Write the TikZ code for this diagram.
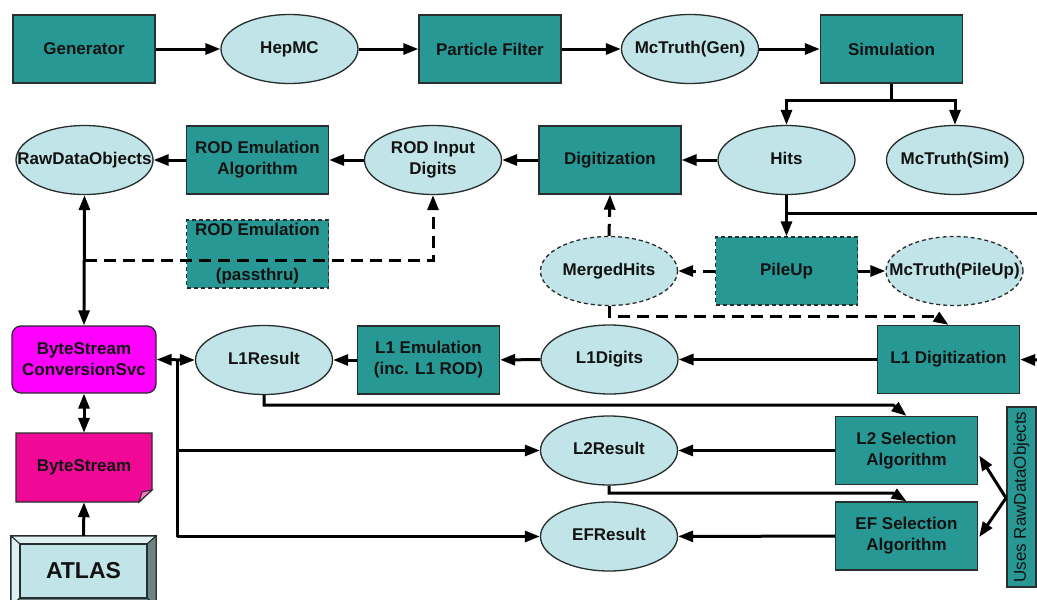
\documentclass[tikz,border=0pt]{standalone}
\usepackage{fontspec}
\setmainfont{Liberation Sans}
\usetikzlibrary{shapes.geometric,arrows.meta,calc}
\definecolor{tealc}{RGB}{40,152,148}
\definecolor{lightc}{RGB}{192,228,231}
\definecolor{bord}{RGB}{40,45,45}
\definecolor{txt}{RGB}{18,18,18}
\definecolor{magc}{RGB}{255,0,255}
\definecolor{pinkc}{RGB}{240,8,150}
\definecolor{pinkl}{RGB}{250,120,200}
\definecolor{bevl}{RGB}{222,240,242}
\definecolor{bevd}{RGB}{110,132,132}
\newcommand{\zt}[1]{\makebox[0pt]{\begin{tabular}{@{}c@{}}#1\end{tabular}}}
\begin{document}
\begin{tikzpicture}[x=1pt,y=-1pt,
  every node/.style={font=\bfseries\fontsize{17}{21}\selectfont, text=txt},
  alg/.style={rectangle, draw=bord, line width=1.3pt, fill=tealc, minimum width=142pt, minimum height=68pt, inner sep=0pt, align=center},
  dat/.style={ellipse, draw=bord, line width=1.3pt, fill=lightc, minimum width=137pt, minimum height=69pt, inner sep=0pt},
  ndash/.style={dash pattern=on 4pt off 3pt},
  ln/.style={line width=3pt},
  arr/.style={line width=3pt, -{Triangle[length=15pt,width=11pt]}},
  arrtwo/.style={line width=3pt, {Triangle[length=15pt,width=11pt]}-{Triangle[length=15pt,width=11pt]}},
  dsh/.style={dash pattern=on 12pt off 7pt}]
\useasboundingbox (0,0) rectangle (1037,600);
\clip (0,0) rectangle (1037,600);

% top row
\node[alg] (gen) at (84,49) {Generator};
\node[dat] (hepmc) at (289.5,49) {\zt{HepMC}};
\node[alg] (pf) at (490,49) {Particle Filter};
\node[dat] (mcgen) at (690,49) {\zt{McTruth(Gen)}};
\node[alg] (sim) at (891.5,49) {Simulation};

% second row
\node[dat] (hits) at (786.5,160) {\zt{Hits}};
\node[dat] (mcsim) at (955,160) {\zt{McTruth(Sim)}};
\node[alg] (dig) at (610,160) {Digitization};
\node[dat] (rodin) at (433,160) {\zt{ROD Input\\Digits}};
\node[alg] (rodalg) at (257.5,160) {ROD Emulation\\Algorithm};
\node[dat] (rdo) at (84.5,160) {\zt{RawDataObjects}};

% pass-through and pileup
\node[alg, ndash] (pass) at (257.5,254) {ROD Emulation\\[24pt](passthru)};
\node[alg, ndash] (pileup) at (786.5,271) {PileUp};
\node[dat, ndash] (merged) at (609,271) {\zt{MergedHits}};
\node[dat, ndash] (mcpile) at (954.5,271) {\zt{McTruth(PileUp)}};

% L1 row
\node[rectangle, rounded corners=9pt, draw=bord, line width=1.3pt, fill=magc, minimum width=144pt, minimum height=67pt, inner sep=0pt, align=center] (bscs) at (84,359.5) {ByteStream\\ConversionSvc};
\node[dat] (l1res) at (264,360) {\zt{L1Result}};
\node[alg] (l1emu) at (428.5,360) {L1 Emulation\\(inc. L1 ROD)};
\node[dat] (l1dig) at (609.5,359.5) {\zt{L1Digits}};
\node[alg] (l1digi) at (948.5,359.5) {L1 Digitization};

% L2 / EF
\node[alg] (l2sel) at (906.5,450.5) {L2 Selection\\Algorithm};
\node[dat] (l2res) at (609,450.5) {\zt{L2Result}};
\node[alg] (efsel) at (906.5,536) {EF Selection\\Algorithm};
\node[dat] (efres) at (609,536.5) {\zt{EFResult}};
\node[rectangle, rotate=90, draw=bord, line width=1.3pt, fill=tealc, minimum width=180pt, minimum height=29pt, inner sep=0pt, font=\fontsize{17}{20}\selectfont] (uses) at (1021.5,497) {Uses RawDataObjects};

% ByteStream document
\fill[pinkc, draw=bord, line width=1.3pt] (16,433) -- (152,433) -- (152,490) -- (139,502) -- (16,502) -- cycle;
\fill[pinkl, draw=bord, line width=1pt] (139,502) -- (142,492) -- (152,490) -- cycle;
\node[rectangle, minimum width=136pt, minimum height=69pt, inner sep=0pt] (bs) at (84,467.5) {ByteStream};

% ATLAS button
\fill[lightc, draw=bord, line width=1.3pt] (11,536) rectangle (156,608);
\fill[bevl, draw=bord, line width=1pt] (11,536) -- (156,536) -- (147,544) -- (20,544) -- cycle;
\fill[bevl, draw=bord, line width=1pt] (11,536) -- (20,544) -- (20,598) -- (11,606) -- cycle;
\fill[bevd, draw=bord, line width=1pt] (156,536) -- (147,544) -- (147,598) -- (156,606) -- cycle;
\fill[bevd, draw=bord, line width=1pt] (11,606) -- (20,598) -- (147,598) -- (156,606) -- cycle;
\fill[lightc, draw=bord, line width=1.3pt] (20,544) rectangle (147,598);
\node[rectangle, minimum width=145pt, minimum height=70pt, inner sep=0pt, font=\bfseries\fontsize{23}{27}\selectfont] (atlas) at (83.5,571) {ATLAS};

% coordinates
\coordinate (sj) at (891.5,100);
\coordinate (hj) at (786.5,213);
\coordinate (eA) at (1037,213);
\coordinate (eB) at (1037,360);
\coordinate (dj) at (84.5,260);
\coordinate (m1) at (935,316);
\coordinate (b1) at (177,360);
\coordinate (b2) at (177,450.5);
\coordinate (b3) at (177,536.5);
\coordinate (c1) at (893,405);
\coordinate (c2) at (893,493);
\coordinate (uj) at (1006,498);

% connectors
\draw[arr] (gen) -- (hepmc);
\draw[arr] (hepmc) -- (pf);
\draw[arr] (pf) -- (mcgen);
\draw[arr] (mcgen) -- (sim);
\draw[ln] (sim.south) -- (sj);
\draw[arr] (sj) -| (hits.north);
\draw[arr] (sj) -| (mcsim.north);
\draw[arr] (hits) -- (dig);
\draw[arr] (dig) -- (rodin);
\draw[arr] (rodin) -- (rodalg);
\draw[arr] (rodalg) -- (rdo);
\draw[arrtwo] (rdo.south) -- (bscs.north);
\draw[arr, dsh] (dj) -| (rodin.south);
\draw[arr] (hits.south) -- (pileup.north);
\draw[ln] (hj) -- (eA);
\draw[arr] (eB) -- (l1digi.east);
\draw[arr, dsh] (pileup) -- (merged);
\draw[arr, dsh] (pileup) -- (mcpile);
\draw[arr, dsh] (merged.north) -- (dig.south);
\draw[arr, dsh] (merged.south) |- (m1) -- (l1digi.north);
\draw[arr] (l1digi) -- (l1dig);
\draw[arr] (l1dig) -- (l1emu);
\draw[arr] (l1emu) -- (l1res);
\draw[arrtwo] (bscs.east) -- (l1res.west);
\draw[ln] (b1) -- (b3);
\draw[arr] (b2) -- (l2res.west);
\draw[arr] (b3) -- (efres.west);
\draw[arr] (l1res.south) |- (c1) -- (l2sel.north);
\draw[arr] (l2res.south) |- (c2) -- (efsel.north);
\draw[arr] (l2sel) -- (l2res);
\draw[arr] (efsel) -- (efres);
\draw[arr] (uj) -- ($(l2sel.east)+(1,5)$);
\draw[arr] (uj) -- ($(efsel.east)+(1,1)$);
\draw[arrtwo] (bscs.south) -- (bs.north);
\draw[arr] (atlas.north) -- (bs.south);
\end{tikzpicture}
\end{document}
